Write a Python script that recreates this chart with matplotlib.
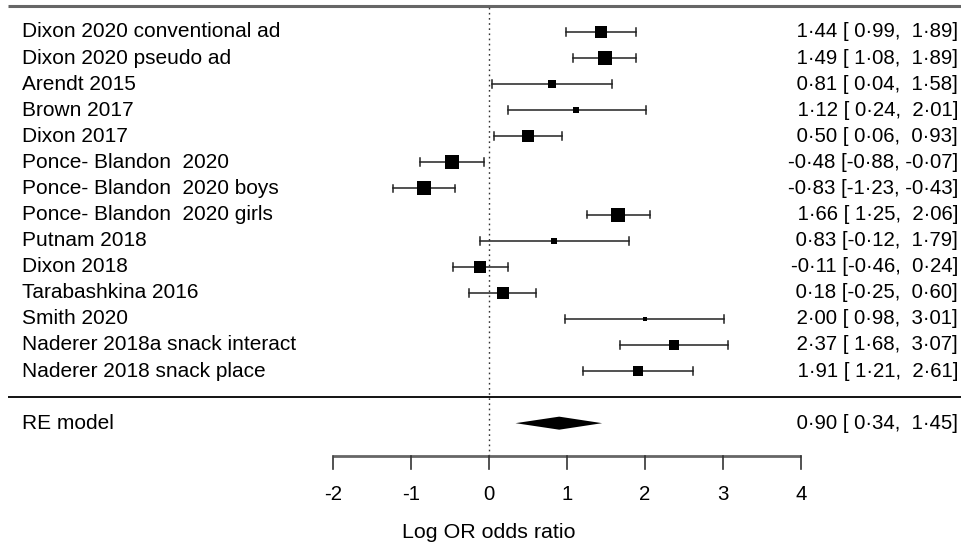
import matplotlib
matplotlib.use("Agg")
import matplotlib.pyplot as plt
import numpy as np

studies = [
    "Dixon 2020 conventional ad",
    "Dixon 2020 pseudo ad",
    "Arendt 2015",
    "Brown 2017",
    "Dixon 2017",
    "Ponce- Blandon  2020",
    "Ponce- Blandon  2020 boys",
    "Ponce- Blandon  2020 girls",
    "Putnam 2018",
    "Dixon 2018",
    "Tarabashkina 2016",
    "Smith 2020",
    "Naderer 2018a snack interact",
    "Naderer 2018 snack place",
]
estimates = [1.44, 1.49, 0.81, 1.12, 0.50, -0.48, -0.83, 1.66, 0.83, -0.11, 0.18, 2.00, 2.37, 1.91]
ci_lower = [0.99, 1.08, 0.04, 0.24, 0.06, -0.88, -1.23, 1.25, -0.12, -0.46, -0.25, 0.98, 1.68, 1.21]
ci_upper = [1.89, 1.89, 1.58, 2.01, 0.93, -0.07, -0.43, 2.06, 1.79, 0.24, 0.60, 3.01, 3.07, 2.61]
weights = [8.5, 8.8, 4.9, 4.0, 7.9, 9.2, 9.5, 9.9, 3.8, 7.6, 7.6, 3.3, 7.3, 7.0]

re_label = "RE model"
re_est, re_lower, re_upper = 0.90, 0.34, 1.45

xticks = [-2, -1, 0, 1, 2, 3, 4]
xlabel = "Log OR odds ratio"

plt.rcParams['font.family'] = ['Liberation Sans', 'DejaVu Sans']
FS_LAB = 15.0
FS_ANN = 14.7
FS_AX = 14.7
FS_XL = 15.4

fig = plt.figure(figsize=(9.62, 5.47), dpi=100)
ax = fig.add_axes([0, 0, 1, 1])
ax.axis("off")

ppu = 78.0  # pixels per x unit
x_left = -2 - 333 / ppu
x_right = 4 + (962 - 801) / ppu
row_px = 26.08
ax.set_xlim(x_left, x_right)
ax.set_ylim(1 - (547 - 371) / row_px, 14 + 32 / row_px)

k = len(studies)
ys = np.arange(k, 0, -1)

def fmt(v):
    return f"{v:5.2f}".replace(".", "\u00b7")

lab_x = x_left + 22 / ppu
ann_x = 4 + (958 - 801) / ppu

# top and separator lines
ax.plot([x_left + 8 / ppu, x_right], [k + 1, k + 1], color="#666666", lw=2.2, solid_capstyle="butt")
ax.plot([x_left + 8 / ppu, x_right], [0, 0], color="black", lw=1.3, solid_capstyle="butt")

# reference line
axis_y = 1 - (456 - 371) / row_px
ax.plot([0, 0], [axis_y, k + 1], color="#333333", lw=1, linestyle=(0, (1.2, 2.5)))

cap = 0.15
for y, name, e, lo, hi, w in zip(ys, studies, estimates, ci_lower, ci_upper, weights):
    ax.plot([lo, hi], [y, y], color="#222222", lw=1.1)
    ax.plot([lo, lo], [y - cap, y + cap], color="#222222", lw=1.1)
    ax.plot([hi, hi], [y - cap, y + cap], color="#222222", lw=1.1)
    ax.plot([e], [y], marker="s", color="black", markersize=w * 1.5 * 0.72, markeredgewidth=0)
    ax.text(lab_x, y, name, ha="left", va="center", fontsize=FS_LAB)
    ax.text(ann_x, y, f"{fmt(e)} [{fmt(lo)}, {fmt(hi)}]", ha="right", va="center", fontsize=FS_ANN)

# RE model diamond
yre = -1
h = 0.25
ax.fill([re_lower, re_est, re_upper, re_est], [yre, yre + h, yre, yre - h], color="black", lw=0)
ax.text(lab_x, yre, re_label, ha="left", va="center", fontsize=FS_LAB)
ax.text(ann_x, yre, f"{fmt(re_est)} [{fmt(re_lower)}, {fmt(re_upper)}]", ha="right", va="center", fontsize=FS_ANN)

# x axis
tick_len = 13 / row_px
ax.plot([xticks[0], xticks[-1]], [axis_y, axis_y], color="#666666", lw=2.0, solid_capstyle="butt")
for t in xticks:
    ax.plot([t, t], [axis_y, axis_y - tick_len], color="#333333", lw=1.2)
    ax.text(t, 1 - (494 - 371) / row_px, str(t), ha="center", va="center", fontsize=FS_AX)
ax.text(0, 1 - (532 - 371) / row_px, xlabel, ha="center", va="center", fontsize=FS_XL)

fig.savefig("out.png", dpi=100)
